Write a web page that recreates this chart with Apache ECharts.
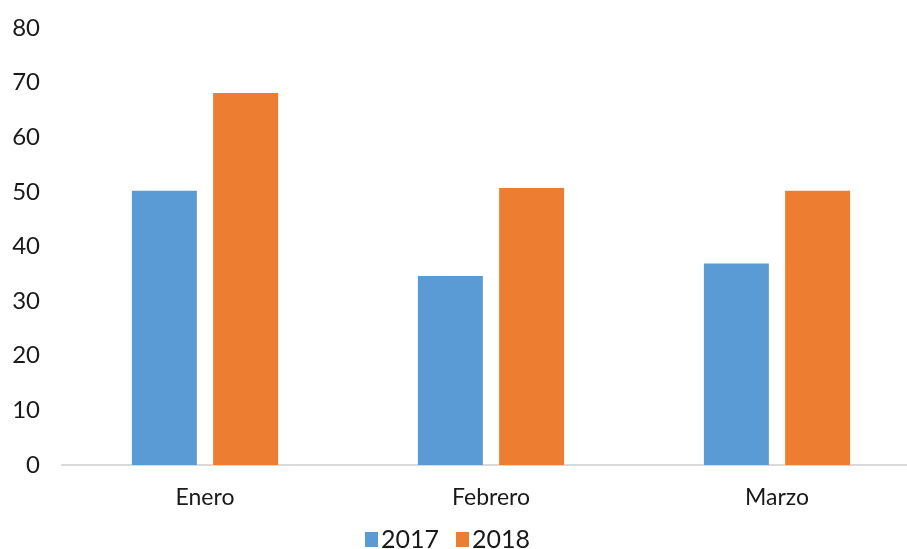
<!DOCTYPE html>
<html><head><meta charset="utf-8">
<script src="https://cdn.jsdelivr.net/npm/echarts@6/dist/echarts.min.js"></script>
<style>html,body{margin:0;padding:0;background:#fff}#c{width:907px;height:549px}</style>
</head><body><div id="c"></div>
<script>
const categories = ['Enero', 'Febrero', 'Marzo'];
const series2017 = [50.2, 34.6, 36.9];
const series2018 = [68.1, 50.7, 50.2];
const yTicks = [0, 10, 20, 30, 40, 50, 60, 70, 80];

const chart = echarts.init(document.getElementById('c'));
const font = 'Lato, "Noto Sans", sans-serif';
chart.setOption({
  animation: false,
  textStyle: { fontFamily: font },
  grid: { left: 62, width: 858, top: 28, height: 437, outerBoundsMode: 'none', containLabel: false },
  legend: {
    bottom: -8, left: 360,
    itemWidth: 13, itemHeight: 15, itemGap: 17,
    icon: 'rect',
    textStyle: { fontSize: 25, color: '#1a1a1a', fontFamily: font, padding: [0,0,0,-2] },
    data: ['2017', '2018']
  },
  xAxis: {
    type: 'category', data: categories,
    axisLine: { lineStyle: { color: '#D9D9D9', width: 2 } },
    axisTick: { show: false },
    axisLabel: { fontSize: 23, color: '#1a1a1a', margin: 21, fontFamily: font }
  },
  yAxis: {
    type: 'value', min: yTicks[0], max: yTicks[yTicks.length - 1], interval: 10,
    splitLine: { show: false },
    axisLine: { show: false }, axisTick: { show: false },
    axisLabel: { fontSize: 24, color: '#1a1a1a', margin: 22, fontFamily: font }
  },
  series: [
    { name: '2017', type: 'bar', data: series2017, barWidth: 65, barGap: '25%',
      itemStyle: { color: '#5B9BD5' } },
    { name: '2018', type: 'bar', data: series2018, barWidth: 65, barGap: '25%',
      itemStyle: { color: '#ED7D31' } }
  ]
});
</script></body></html>
